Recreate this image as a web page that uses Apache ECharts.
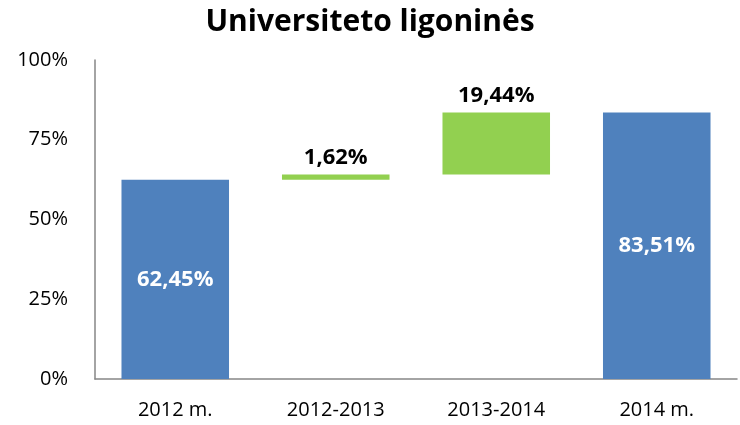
<!DOCTYPE html>
<html lang="lt">
<head>
    <meta charset="UTF-8"/>
    <title>Universiteto ligoninės</title>
    <style>
        * { padding: 0; margin: 0; }
        body { background-color: #fff; }
        #chart { width: 740px; height: 425px; }
    </style>
    <script src="https://cdn.jsdelivr.net/npm/echarts@6/dist/echarts.min.js"></script>
</head>
<body>
<div id="chart"></div>
<script>
    const categories = ['2012 m.', '2012-2013', '2013-2014', '2014 m.']
    // total = full column from 0, change = floating step
    const kinds = ['total', 'change', 'change', 'total']
    const values = [62.45, 1.62, 19.44, 83.51]
    const yTicks = [0, 25, 50, 75, 100]

    const blue = '#4F81BD'
    const green = '#92D050'

    // base for each floating step = running total before it
    const base = []
    let running = 0
    values.forEach((v, i) => {
        if (kinds[i] === 'total') {
            base.push(0)
            running = v
        } else {
            base.push(running)
            running += v
        }
    })

    const fmt = v => v.toFixed(2).replace('.', ',') + '%'

    const chart = echarts.init(document.getElementById('chart'))
    chart.setOption({
        animation: false,
        textStyle: { fontFamily: '"Open Sans", "Liberation Sans", sans-serif' },
        title: {
            text: 'Universiteto ligoninės',
            left: 'center',
            top: 2,
            textStyle: { fontSize: 30, fontWeight: 'bold', color: '#000' }
        },
        grid: { left: 95, right: 3, top: 60, bottom: 46 },
        xAxis: {
            type: 'category',
            data: categories,
            axisLine: { lineStyle: { color: '#868686', width: 1.5 } },
            axisTick: { show: false },
            axisLabel: { fontSize: 20, color: '#000', margin: 21 }
        },
        yAxis: {
            type: 'value',
            min: yTicks[0],
            max: yTicks[yTicks.length - 1],
            interval: 25,
            splitLine: { show: false },
            axisLine: { show: true, lineStyle: { color: '#868686', width: 1.5 } },
            axisTick: { show: false },
            axisLabel: { fontSize: 20, color: '#000', margin: 27, formatter: '{value}%' }
        },
        series: [
            {
                type: 'bar',
                stack: 'w',
                silent: true,
                itemStyle: { color: 'transparent' },
                data: base
            },
            {
                type: 'bar',
                stack: 'w',
                barWidth: '67%',
                data: values.map((v, i) => ({
                    value: v,
                    itemStyle: { color: kinds[i] === 'total' ? blue : green },
                    label: kinds[i] === 'total'
                        ? { position: 'inside', color: '#fff' }
                        : { position: 'top', color: '#000', distance: 6 }
                })),
                label: {
                    show: true,
                    fontSize: 22,
                    fontWeight: 'bold',
                    formatter: p => fmt(p.value)
                }
            }
        ]
    })
</script>
</body>
</html>
